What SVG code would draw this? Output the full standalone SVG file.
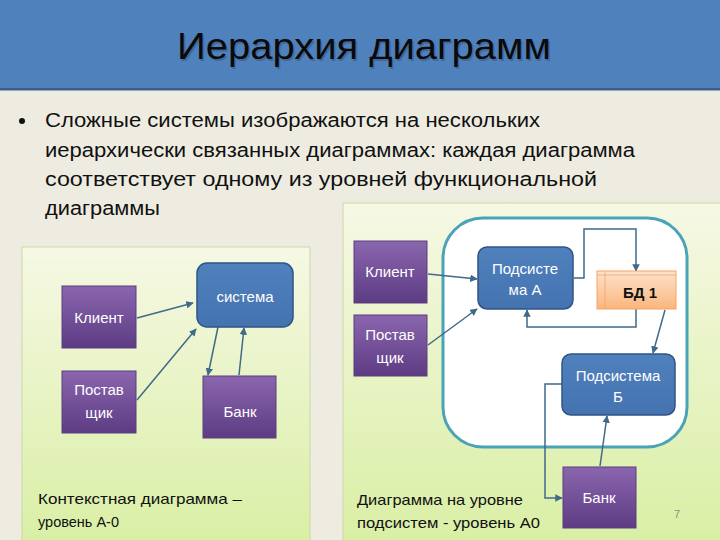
<svg xmlns="http://www.w3.org/2000/svg" width="720" height="540" viewBox="0 0 720 540">
<defs>
<linearGradient id="gPanel" x1="0" y1="0" x2="0" y2="1">
<stop offset="0" stop-color="#F6F8E4"/>
<stop offset="1" stop-color="#D9EFA4"/>
</linearGradient>
<linearGradient id="gPurple" x1="0" y1="0" x2="0" y2="1">
<stop offset="0" stop-color="#8A66AE"/>
<stop offset="1" stop-color="#5D3C84"/>
</linearGradient>
<linearGradient id="gBlue" x1="0" y1="0" x2="0" y2="1">
<stop offset="0" stop-color="#4F81BD"/>
<stop offset="1" stop-color="#4473B0"/>
</linearGradient>
<linearGradient id="gOrange" x1="0" y1="0" x2="0" y2="1">
<stop offset="0" stop-color="#FDE3CC"/>
<stop offset="1" stop-color="#FAB67C"/>
</linearGradient>
<marker id="arr" viewBox="0 0 10 10" refX="9" refY="5" markerWidth="5" markerHeight="5" orient="auto">
<path d="M0,0 L10,5 L0,10 z" fill="#3F6A8A"/>
</marker>
<style>
.purple{fill:url(#gPurple);stroke:#5B3F7E;stroke-width:1}
.blue{fill:url(#gBlue);stroke:#2F5485;stroke-width:1.5}
.nt{font-family:"Liberation Sans",Arial,sans-serif;font-size:15px;fill:#FFFFFF;text-anchor:middle}
.body{font-family:"Liberation Sans",Arial,sans-serif;font-size:20px;fill:#111111}
.cap{font-family:"Liberation Sans",Arial,sans-serif;font-size:14.5px;fill:#111111}
.conn{fill:none;stroke:#3F6A8A;stroke-width:1.5;marker-end:url(#arr)}
</style>
</defs>
<rect x="0" y="0" width="720" height="540" fill="#EEECE1"/>
<g id="title">
<rect x="0" y="0" width="720" height="89" fill="#4F81BD"/>
<rect x="0" y="88" width="720" height="2.5" fill="#3A5F8E"/>
<text x="364" y="59" font-family="'Liberation Sans',Arial,sans-serif" font-size="36" fill="#3A5A80" text-anchor="middle" textLength="374" lengthAdjust="spacingAndGlyphs" opacity="0.6" transform="translate(1.5,1.5)">Иерархия диаграмм</text>
<text x="364" y="59" font-family="'Liberation Sans',Arial,sans-serif" font-size="36" fill="#0A0A0A" text-anchor="middle" textLength="374" lengthAdjust="spacingAndGlyphs">Иерархия диаграмм</text>
</g>
<g id="bullet">
<circle cx="22" cy="121" r="3" fill="#111111"/>
<text class="body" x="45" y="127" textLength="495" lengthAdjust="spacingAndGlyphs">Сложные системы изображаются на нескольких</text>
<text class="body" x="45" y="157" textLength="590" lengthAdjust="spacingAndGlyphs">иерархически связанных диаграммах: каждая диаграмма</text>
<text class="body" x="45" y="186" textLength="552" lengthAdjust="spacingAndGlyphs">соответствует одному из уровней функциональной</text>
<text class="body" x="45" y="215" textLength="115" lengthAdjust="spacingAndGlyphs">диаграммы</text>
</g>
<g id="panel-left">
<rect x="22" y="247" width="288" height="300" fill="url(#gPanel)" stroke="#C9D7A6" stroke-width="1"/>
</g>
<g id="panel-right">
<rect x="343" y="203" width="390" height="345" fill="url(#gPanel)" stroke="#C9D7A6" stroke-width="1"/>
<rect x="443" y="218" width="244" height="229" rx="40" ry="40" fill="#FFFFFF" stroke="#4BA3B8" stroke-width="3"/>
</g>
<g id="connectors">
<line class="conn" x1="137" y1="318" x2="193" y2="303"/>
<line class="conn" x1="137" y1="400" x2="196" y2="329"/>
<line class="conn" x1="218" y1="327" x2="208" y2="375"/>
<line class="conn" x1="239" y1="375" x2="244" y2="328"/>
<line class="conn" x1="428" y1="274" x2="477" y2="279"/>
<line class="conn" x1="428" y1="345" x2="477" y2="309"/>
<polyline class="conn" points="574,278 584,278 584,229 636,229 636,271"/>
<polyline class="conn" points="636,309 636,327 527,327 527,310"/>
<line class="conn" x1="665" y1="310" x2="653" y2="353"/>
<line class="conn" x1="600" y1="466" x2="607" y2="416"/>
<polyline class="conn" points="562,384 545,384 545,498 562,498"/>
</g>
<g id="n-client-left">
<rect class="purple" x="62" y="286" width="74" height="62"/>
<text class="nt" x="99" y="323">Клиент</text>
</g>
<g id="n-supplier-left">
<rect class="purple" x="62" y="371" width="74" height="62"/>
<text class="nt" x="99" y="395">Постав</text>
<text class="nt" x="99" y="418">щик</text>
</g>
<g id="n-system">
<rect class="blue" x="197" y="263" width="96" height="64" rx="10" ry="10"/>
<text class="nt" x="245" y="302">система</text>
</g>
<g id="n-bank-left">
<rect class="purple" x="203" y="376" width="73" height="62"/>
<text class="nt" x="240" y="417">Банк</text>
</g>
<g id="n-client-right">
<rect class="purple" x="354" y="241" width="73" height="62"/>
<text class="nt" x="390" y="277">Клиент</text>
</g>
<g id="n-supplier-right">
<rect class="purple" x="354" y="315" width="73" height="61"/>
<text class="nt" x="390" y="340">Постав</text>
<text class="nt" x="390" y="363">щик</text>
</g>
<g id="n-subA">
<rect class="blue" x="478" y="247" width="95" height="62" rx="9" ry="9"/>
<text class="nt" x="525" y="274">Подсисте</text>
<text class="nt" x="525" y="295">ма А</text>
</g>
<g id="n-db1">
<rect x="597" y="271" width="79" height="38" fill="url(#gOrange)" stroke="#F5A468" stroke-width="1"/>
<line x1="605" y1="271" x2="605" y2="309" stroke="#F5A468" stroke-width="0.8"/>
<line x1="597" y1="275" x2="676" y2="275" stroke="#F5A468" stroke-width="0.8"/>
<text x="640" y="298" font-family="'Liberation Sans',Arial,sans-serif" font-size="15" font-weight="bold" fill="#111111" text-anchor="middle">БД 1</text>
</g>
<g id="n-subB">
<rect class="blue" x="562" y="354" width="113" height="61" rx="9" ry="9"/>
<text class="nt" x="618" y="381">Подсистема</text>
<text class="nt" x="618" y="402">Б</text>
</g>
<g id="n-bank-right">
<rect class="purple" x="563" y="467" width="73" height="61"/>
<text class="nt" x="599" y="503">Банк</text>
</g>
<g id="captions">
<text class="cap" x="38" y="504" textLength="204" lengthAdjust="spacingAndGlyphs">Контекстная диаграмма –</text>
<text class="cap" x="38" y="527">уровень А-0</text>
<text class="cap" x="357" y="505" textLength="166" lengthAdjust="spacingAndGlyphs">Диаграмма на уровне</text>
<text class="cap" x="357" y="528" textLength="183" lengthAdjust="spacingAndGlyphs">подсистем -  уровень А0</text>
<text x="674" y="518" font-family="'Liberation Sans',Arial,sans-serif" font-size="11" fill="#8C8C8C">7</text>
</g>
</svg>
